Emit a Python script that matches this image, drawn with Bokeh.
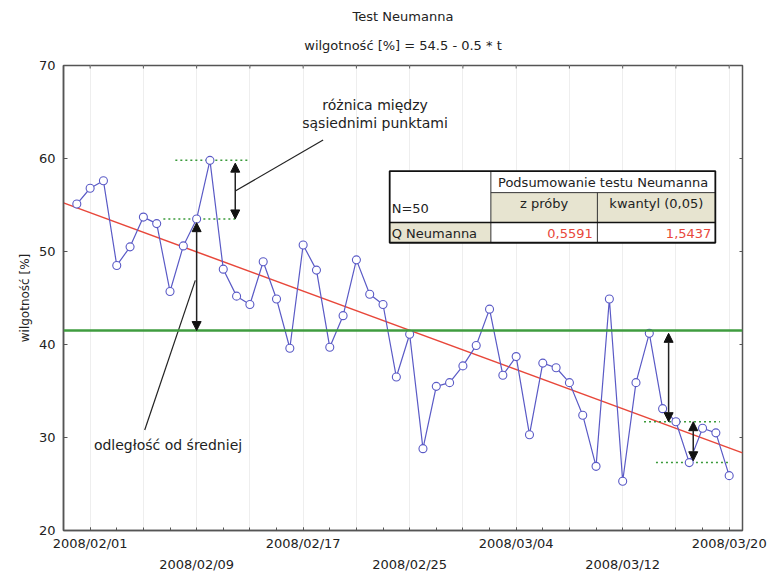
import numpy as np
import pandas as pd
from bokeh.plotting import figure
from bokeh.models import FixedTicker, LinearAxis, Range1d, Title, Arrow, NormalHead, Span
from bokeh.core.properties import value
from bokeh.embed import file_html
from bokeh.resources import INLINE

# ---------------- data ----------------
TITLE = "Test Neumanna"
SUBTITLE = "wilgotność [%] = 54.5 - 0.5 * t"
Y_LABEL = "wilgotność [%]"
START_DATE = "2008-01-31"
VALUES = [55.1, 56.8, 57.6, 48.5, 50.5, 53.7, 53.0, 45.7, 50.6, 53.5,
          59.8, 48.1, 45.2, 44.3, 48.9, 44.9, 39.6, 50.7, 48.0, 39.7,
          43.1, 49.1, 45.4, 44.3, 36.5, 41.1, 28.8, 35.5, 35.9, 37.7,
          39.9, 43.8, 36.7, 38.7, 30.3, 38.0, 37.5, 35.9, 32.4, 26.9,
          44.9, 25.3, 35.9, 41.2, 33.1, 31.7, 27.3, 31.0, 30.5, 25.9]
DATES = list(pd.date_range(START_DATE, periods=len(VALUES)).strftime("%Y/%m/%d"))
TICK_DATES = ["2008/02/01", "2008/02/09", "2008/02/17", "2008/02/25",
              "2008/03/04", "2008/03/12", "2008/03/20"]
Y_TICKS = [20, 30, 40, 50, 60, 70]
MEAN = 41.5
TREND_INTERCEPT = 54.7
TREND_SLOPE = -0.527
ANN_DIFF = ["różnica między", "sąsiednimi punktami"]
ANN_DIST = "odległość od średniej"
TABLE_N = "N=50"
TABLE_HEADER = "Podsumowanie testu Neumanna"
TABLE_COLS = ["z próby", "kwantyl (0,05)"]
TABLE_ROW = "Q Neumanna"
TABLE_VALUES = ["0,5591", "1,5437"]

FONT = "DejaVu Sans"
TXT = "#222222"
AX = "#555555"
BLUE = "#5a5ac6"
RED = "#e8473a"
GREEN = "#3f9c3f"
DOT = "#3a9a3a"
BEIGE = "#e7e4d0"

x = np.arange(len(VALUES))
tick_pos = [DATES.index(d) for d in TICK_DATES]
row1 = tick_pos[0::2]
row2 = tick_pos[1::2]
top_ticks = list(range(tick_pos[0], len(VALUES), 4))
minor = list(range(tick_pos[0], len(VALUES), 2))

X0, X1 = -1, len(VALUES)
Y0, Y1 = Y_TICKS[0], Y_TICKS[-1]

p = figure(width=771, height=574, x_range=Range1d(X0, X1), y_range=Range1d(Y0, Y1),
           output_backend="svg", toolbar_location=None, title=None,
           min_border_left=63, min_border_right=29, min_border_top=65, min_border_bottom=43)
p.background_fill_color = "white"
p.border_fill_color = "white"
p.outline_line_color = AX
p.outline_line_width = 1.5

# bottom axis, first row of labels
xa = p.xaxis[0]
xa.ticker = FixedTicker(ticks=row1, minor_ticks=minor)
xa.major_label_overrides = {tp: DATES[tp] for tp in row1}
xa.major_tick_in = 3
xa.major_tick_out = 0
xa.minor_tick_in = 3
xa.minor_tick_out = 0
xa.minor_tick_line_color = AX
xa.major_label_standoff = 5

# second row of labels
xa2 = LinearAxis(ticker=FixedTicker(ticks=row2), major_label_overrides={tp: DATES[tp] for tp in row2},
                 axis_line_color=None, major_tick_line_color=None, minor_tick_line_color=None,
                 major_tick_in=0, major_tick_out=0, major_label_standoff=3)
p.add_layout(xa2, "below")

ya = p.yaxis[0]
ya.ticker = FixedTicker(ticks=Y_TICKS)
ya.major_tick_in = 4
ya.major_tick_out = 0
ya.minor_tick_line_color = None
ya.axis_label = Y_LABEL
ya.axis_label_standoff = 4
ya.axis_label_text_font = FONT
ya.axis_label_text_font_size = "12px"
ya.axis_label_text_font_style = "normal"
ya.axis_label_text_color = TXT
ya.major_label_standoff = 8
for ax in (xa, xa2, ya):
    ax.major_label_text_font = FONT
    ax.major_label_text_font_size = "13px"
    ax.major_label_text_color = TXT
for ax in (xa, ya):
    ax.axis_line_color = AX
    ax.axis_line_width = 1.5
    ax.major_tick_line_color = AX

p.add_layout(Title(text=SUBTITLE, align="center", text_font=FONT, text_font_size="13px",
                   text_font_style="normal", text_color=TXT, standoff=22,
                   text_line_height=1.6, vertical_align="top"), "above")
p.add_layout(Title(text=TITLE, align="center", text_font=FONT, text_font_size="13px",
                   text_font_style="normal", text_color=TXT, standoff=6), "above")

p.xgrid.ticker = FixedTicker(ticks=top_ticks)
p.xgrid.grid_line_color = "#eeeeee"
p.ygrid.grid_line_color = None

# tick marks on the top and right borders (3 px long, pointing inwards)
ty = 3 * (Y1 - Y0) / 466
tx_len = 3 * (X1 - X0) / 679
p.segment(top_ticks, Y1, top_ticks, Y1 - ty, line_color=AX, line_width=1)
p.segment(X1, Y_TICKS[1:-1], X1 - tx_len, Y_TICKS[1:-1], line_color=AX, line_width=1)

# mean and trend
p.add_layout(Span(location=MEAN, dimension="width", line_color=GREEN, line_width=2.5))
tx = np.array([X0, X1])
p.line(tx, TREND_INTERCEPT + TREND_SLOPE * tx, line_color=RED, line_width=1.5)

# dotted helper lines
dot_x0 = [7.4, 6.5, 42.6, 43.5]
dot_x1 = [13.0, 12.0, 48.3, 49.0]
dot_y = [VALUES[10], VALUES[9], VALUES[45], VALUES[46]]
p.segment(dot_x0, dot_y, dot_x1, dot_y, line_color=DOT, line_width=1.5, line_dash="2 3")

# series
p.line(x, VALUES, line_color=BLUE, line_width=1.2)
p.scatter(x, VALUES, marker="circle", size=8, fill_color="white", line_color=BLUE, line_width=1.1)

# callout lines
p.segment([5.1, 18.5], [30.8, 62.0], [8.9, 11.9], [46.9, 56.5], line_color="#222222", line_width=1.2)

def arrow(xp, y0, y1):
    p.add_layout(Arrow(x_start=xp, y_start=y0, x_end=xp, y_end=y1,
                       start=NormalHead(size=9, fill_color="#111111", line_color="#111111"),
                       end=NormalHead(size=9, fill_color="#111111", line_color="#111111"),
                       line_color="#222222", line_width=1.5))

arrow(11.9, VALUES[9], VALUES[10] - 0.3)
arrow(9, VALUES[9] - 0.4, MEAN)
arrow(44.45, MEAN - 0.3, VALUES[45])
arrow(46.3, VALUES[45], VALUES[46] + 0.2)

txt_kw = dict(text_font=value(FONT), text_font_size="14px", text_color=TXT,
              text_baseline="middle")
p.text([22.4, 22.4, 6.85], [65.8, 63.8, 29.2], text=ANN_DIFF + [ANN_DIST], text_align="center", **txt_kw)

# summary table
C0, C1, C2, C3 = 23.5, 31.1, 39.1, 47.96
R0, R1, R2, R3 = 58.65, 56.33, 53.12, 50.94
p.quad(left=C0, right=C3, bottom=R3, top=R0, fill_color="white", line_color=None)
p.quad(left=[C1, C0], right=[C3, C1], bottom=[R2, R3], top=[R1, R2], fill_color=BEIGE, line_color=None)
p.segment([C1, C2, C1], [R3, R3, R1], [C1, C2, C3], [R0, R1, R1], line_color="#333333", line_width=1)
p.segment([C0], [R2], [C3], [R2], line_color="#111111", line_width=1.6)
p.quad(left=C0, right=C3, bottom=R3, top=R0, fill_color=None, line_color="#111111", line_width=1.8)

tbl_kw = dict(text_font=value(FONT), text_font_size="13px", text_baseline="middle")
p.text([23.65, 23.65], [54.6, 51.9], text=[TABLE_N, TABLE_ROW], text_align="left", text_color=TXT, **tbl_kw)
p.text([(C1 + C3) / 2, (C1 + C2) / 2, (C2 + C3) / 2], [57.45, 55.2, 55.2],
       text=[TABLE_HEADER] + TABLE_COLS, text_align="center", text_color=TXT, **tbl_kw)
p.text([C2 - 0.35, C3 - 0.3], [51.9, 51.9], text=TABLE_VALUES, text_align="right", text_color=RED, **tbl_kw)

open("out.html", "w").write(file_html(p, INLINE))
